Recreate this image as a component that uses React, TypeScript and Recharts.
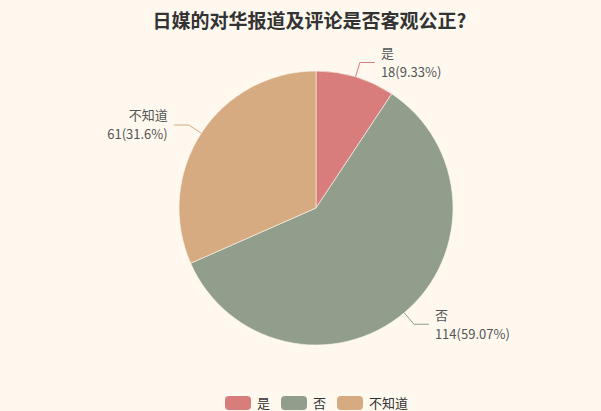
import React from 'react';
import { PieChart, Pie, Cell, Legend } from 'recharts';

const categories = ['是', '否', '不知道'];
const counts = [18, 114, 61];
const percentLabels = ['9.33%', '59.07%', '31.6%'];
const colors = ['#d87c7c', '#919e8b', '#d7ab82'];

const BG = '#fef8ef';
const FONT = '"Noto Sans CJK SC", "Noto Sans", sans-serif';
const RAD = Math.PI / 180;

const data = categories.map((name, i) => ({
  name,
  value: counts[i],
  pct: percentLabels[i],
}));

function renderLabel(props: any) {
  const { cx, cy, midAngle, outerRadius, payload, index } = props;
  const cos = Math.cos(-midAngle * RAD);
  const sin = Math.sin(-midAngle * RAD);
  const x0 = cx + outerRadius * cos;
  const y0 = cy + outerRadius * sin;
  const x1 = cx + (outerRadius + 15) * cos;
  const y1 = cy + (outerRadius + 15) * sin;
  const right = cos >= 0;
  const x2 = x1 + (right ? 15 : -15);
  const tx = x2 + (right ? 6 : -6);
  const anchor = right ? 'start' : 'end';
  return (
    <g key={`lbl-${index}`}>
      <polyline
        points={`${x0},${y0} ${x1},${y1} ${x2},${y1}`}
        fill="none"
        stroke={colors[index]}
        strokeWidth={1}
      />
      <text x={tx} y={y1 - 10} textAnchor={anchor} dominantBaseline="central" fontSize={13} fill="#555" fontFamily={FONT}>
        {payload.name}
      </text>
      <text x={tx} y={y1 + 9} textAnchor={anchor} dominantBaseline="central" fontSize={13} fill="#555" fontFamily={FONT}>
        {`${payload.value}(${payload.pct})`}
      </text>
    </g>
  );
}

function LegendContent() {
  return (
    <div style={{ display: 'flex', alignItems: 'center', height: 16, paddingLeft: 225, fontFamily: FONT, fontSize: 13, lineHeight: '14px', color: '#333' }}>
      {categories.map((c, i) => (
        <div key={c} style={{ display: 'flex', alignItems: 'center', marginLeft: i === 0 ? 0 : 11 }}>
          <span style={{ display: 'inline-block', width: 26, height: 14, borderRadius: 4, background: colors[i], marginRight: 6 }} />
          <span style={{ lineHeight: '14px' }}>{c}</span>
        </div>
      ))}
    </div>
  );
}

export default function App() {
  return (
    <div style={{ position: 'absolute', left: 0, top: 0, width: 601, height: 411, background: BG, overflow: 'hidden' }}>
      <div
        style={{
          position: 'absolute',
          top: 6,
          left: 0,
          width: 601,
          textAlign: 'center',
          fontFamily: FONT,
          fontWeight: 'bold',
          fontSize: 19,
          color: '#333',
          lineHeight: '28px',
          paddingLeft: 18,
          boxSizing: 'border-box',
        }}
      >
        日媒的对华报道及评论是否客观公正?
      </div>
      <PieChart
        width={601}
        height={411}
        margin={{ top: 0, right: 0, bottom: 0, left: 0 }}
        style={{ position: 'absolute', left: 0, top: 0 }}
      >
        <Pie
          data={data}
          dataKey="value"
          nameKey="name"
          cx={316}
          cy={208}
          outerRadius={137}
          startAngle={90}
          endAngle={-270}
          stroke={BG}
          strokeWidth={0.6}
          label={renderLabel}
          labelLine={false}
          isAnimationActive={false}
        >
          {data.map((d, i) => (
            <Cell key={d.name} fill={colors[i]} />
          ))}
        </Pie>
        <Legend
          content={<LegendContent />}
          wrapperStyle={{ position: 'absolute', top: 395, left: 0, width: 601, height: 16 }}
        />
      </PieChart>
    </div>
  );
}
